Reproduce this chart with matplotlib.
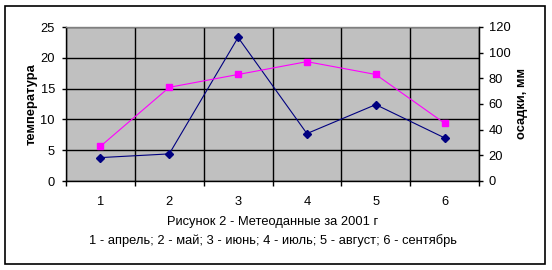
import matplotlib
matplotlib.use('Agg')
import matplotlib.pyplot as plt
from matplotlib.patches import Rectangle

plt.rcParams['font.family'] = ['Liberation Sans', 'DejaVu Sans']
plt.rcParams['font.size'] = 9.3

months = [1, 2, 3, 4, 5, 6]
temperature = [3.8, 4.4, 23.3, 7.7, 12.4, 7.0]
precipitation = [27, 73, 83, 93, 83, 45]

fig = plt.figure(figsize=(5.52, 2.70), dpi=100)
ax = fig.add_axes([66 / 552, 1 - 181 / 270, (479 - 66) / 552, (181 - 27) / 270])
ax.set_facecolor('#c0c0c0')

# outer frame of the chart
fig.patches.append(Rectangle((5.5 / 552, 6.3 / 270), (545 - 5.5) / 552, (264.5 - 6.3) / 270,
                             transform=fig.transFigure, fill=False, edgecolor='black',
                             linewidth=1.2))

ax.set_xlim(0.5, 6.5)
ax.set_ylim(0, 25)
ax.set_yticks(range(0, 26, 5))
ax.set_xticks([0.5, 1.5, 2.5, 3.5, 4.5, 5.5, 6.5])
ax.set_xticklabels([])
ax.set_xticks(months, minor=True)
ax.set_xticklabels([str(m) for m in months], minor=True)
ax.tick_params(axis='x', which='major', direction='out', length=3.5, width=1, color='black')
ax.tick_params(axis='x', which='minor', length=0, pad=11)
ax.tick_params(axis='y', direction='out', length=3, width=1, pad=5)
ax.grid(True, which='major', color='black', linewidth=1)
ax.set_axisbelow(True)
for s in ['left', 'bottom', 'right']:
    ax.spines[s].set_color('black')
    ax.spines[s].set_linewidth(1)
ax.spines['top'].set_color('#808080')
ax.spines['top'].set_linewidth(1)
ax.set_ylabel('температура', fontweight='bold', labelpad=2)

ax.plot(months, temperature, color='#000080', linewidth=0.8, marker='D',
        markersize=4, zorder=3)

ax2 = ax.twinx()
ax2.set_ylim(0, 120)
ax2.set_yticks(range(0, 121, 20))
ax2.tick_params(axis='y', direction='out', length=3, width=1, pad=4)
for s in ['left', 'bottom', 'top']:
    ax2.spines[s].set_visible(False)
ax2.spines['right'].set_color('black')
ax2.set_ylabel('осадки, мм', fontweight='bold', labelpad=4)
ax2.plot(months, precipitation, color='#ff00ff', linewidth=0.8, marker='s',
         markersize=4.5, zorder=3)

fig.text(272.5 / 552, 1 - 222 / 270, 'Рисунок 2 - Метеоданные за 2001 г',
         ha='center', va='center')
fig.text(272.5 / 552, 1 - 241 / 270,
         '1 - апрель; 2 - май; 3 - июнь; 4 - июль; 5 - август; 6 - сентябрь',
         ha='center', va='center')

fig.savefig('out.png', dpi=100)
